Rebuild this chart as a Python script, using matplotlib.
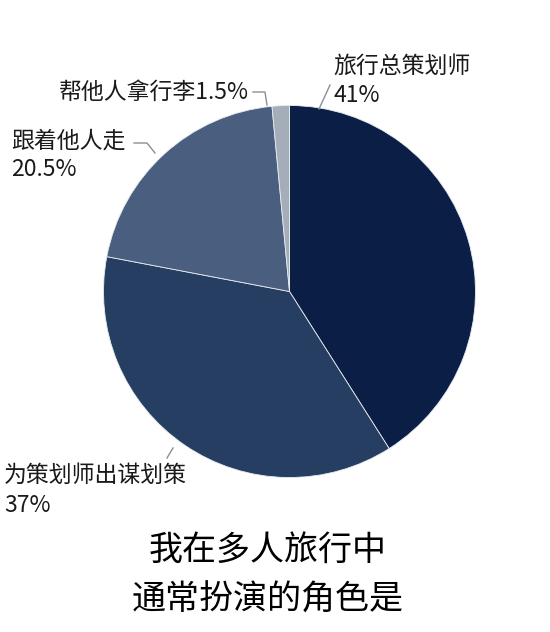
import matplotlib
matplotlib.use("Agg")
import matplotlib.pyplot as plt
from matplotlib.lines import Line2D

plt.rcParams['font.family'] = ['Noto Sans CJK SC', 'DejaVu Sans']

# data
roles = ["旅行总策划师", "为策划师出谋划策", "跟着他人走", "帮他人拿行李"]
shares = [41, 37, 20.5, 1.5]
share_labels = ["41%", "37%", "20.5%", "1.5%"]
colors = ["#0b1f46", "#263e61", "#4a5f7f", "#a5adb9"]
title_lines = ["我在多人旅行中", "通常扮演的角色是"]

W, H = 550, 632
fig = plt.figure(figsize=(W / 100, H / 100), dpi=100)

# pie geometry in pixels
cx, cy, r = 289.5, 291.5, 186


def fx(px):
    return px / W


def fy(py):
    return 1 - py / H


ax = fig.add_axes([fx(cx - r), fy(cy + r), 2 * r / W, 2 * r / H])
ax.pie(shares, colors=colors, startangle=90, counterclock=False,
       wedgeprops=dict(edgecolor="#e8ecf0", linewidth=0.6))
ax.set_xlim(-1, 1)
ax.set_ylim(-1, 1)
ax.set_aspect("equal")
ax.axis("off")

txt_color = "#1a1a1a"
line_color = "#8a8f96"
fs = 16.5
fw = "medium"

# labels
fig.text(fx(333), fy(66), roles[0], fontsize=fs, color=txt_color, fontweight=fw,
         ha="left", va="center")
fig.text(fx(333), fy(96), share_labels[0], fontsize=fs, color=txt_color, fontweight=fw,
         ha="left", va="center")

fig.text(fx(249), fy(92), roles[3] + share_labels[3], fontsize=fs, color=txt_color,
         fontweight=fw, ha="right", va="center")

fig.text(fx(11), fy(141), roles[2], fontsize=fs, color=txt_color, fontweight=fw,
         ha="left", va="center")
fig.text(fx(11), fy(170), share_labels[2], fontsize=fs, color=txt_color, fontweight=fw,
         ha="left", va="center")

fig.text(fx(4), fy(475), roles[1], fontsize=fs, color=txt_color, fontweight=fw,
         ha="left", va="center")
fig.text(fx(4), fy(506), share_labels[1], fontsize=fs, color=txt_color, fontweight=fw,
         ha="left", va="center")

# leader lines (pixel paths)
leaders = [
    [(330, 85), (319, 109)],
    [(253, 92), (265, 92), (267, 105)],
    [(134, 143), (147, 143), (155, 153)],
    [(167, 458), (173, 448)],
]
for path in leaders:
    xs = [fx(p[0]) for p in path]
    ys = [fy(p[1]) for p in path]
    fig.add_artist(Line2D(xs, ys, color=line_color, linewidth=1.0))

# title
fig.text(fx(268), fy(550), title_lines[0], fontsize=24.5, color="black", ha="center", va="center")
fig.text(fx(268), fy(600), title_lines[1], fontsize=24.5, color="black", ha="center", va="center")

fig.savefig("out.png", dpi=100, facecolor="white")
